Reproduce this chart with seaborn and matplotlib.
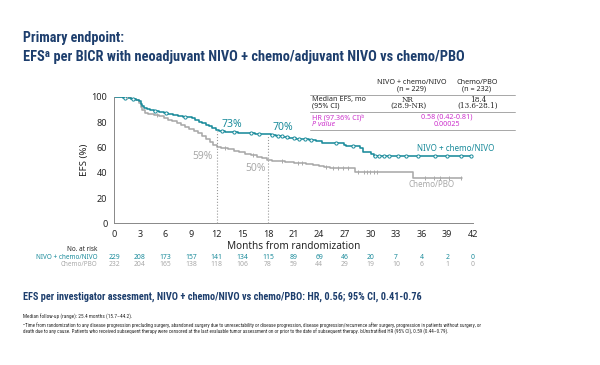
import numpy as np
import pandas as pd
import seaborn as sns
import matplotlib.pyplot as plt
from matplotlib import transforms

sns.set_style('white')
plt.rcParams['font.family'] = ['Noto Sans', 'DejaVu Sans']

# KM steps (months, EFS %)
nivo_t = [0, 0.5, 1, 1.5, 2, 2.5, 2.9, 3.1, 3.3, 3.5, 3.8, 4.2, 4.6, 5.2, 5.8, 6.3, 6.9, 7.5,
          8.0, 8.6, 9.1, 9.5, 9.9, 10.3, 10.7, 11.1, 11.5, 11.9, 12.3, 13.0, 13.8, 14.5, 15.5,
          16.5, 17.5, 18.3, 19.0, 19.8, 20.5, 21.3, 22.0, 22.8, 23.6, 24.3, 26.9, 27.2, 28.8,
          29.1, 30.1, 30.4, 41.9]
nivo_s = [100, 99.6, 99.1, 98.7, 98.3, 97.8, 96.5, 94.3, 92.5, 91.2, 90.0, 89.2, 88.4, 87.6,
          86.9, 86.0, 85.2, 84.8, 84.3, 83.8, 83.0, 81.7, 80.4, 79.1, 77.8, 76.5, 75.2, 74.0,
          73.2, 72.5, 72.0, 71.6, 71.2, 70.8, 70.4, 69.8, 69.1, 68.4, 67.8, 67.0, 66.3, 65.7,
          65.0, 63.2, 62.0, 61.0, 59.5, 56.6, 54.5, 53.4, 53.4]
pbo_t = [0, 1, 2, 2.6, 2.9, 3.1, 3.3, 3.6, 4.0, 4.6, 5.2, 5.8, 6.3, 6.8, 7.3, 7.8, 8.3, 8.8,
         9.3, 9.8, 10.3, 10.8, 11.2, 11.6, 12.0, 12.5, 13.3, 14.0, 14.6, 15.3, 16.0, 16.7,
         17.3, 17.9, 18.5, 19.3, 20.0, 21.0, 22.5, 23.3, 24.0, 24.6, 25.3, 28.2, 35.0, 40.7]
pbo_s = [100, 99.5, 98.5, 97.5, 95, 92, 89.5, 87.5, 86.5, 85.5, 84.5, 83.5, 82, 80.5, 79,
         77.3, 75.8, 74.3, 72.8, 71, 69, 66.5, 64.5, 62, 60, 59.2, 58.5, 57.3, 56, 55, 54,
         52.8, 51.5, 50.3, 49.6, 49.0, 48.3, 47.6, 47.0, 46.2, 45.5, 44.5, 43.6, 40.3, 36.0, 36.0]
nivo_cens = [1.2, 2.2, 4.8, 6.1, 8.3, 12.6, 14.0, 16.0, 17.0, 18.5, 19.2, 19.6, 20.2, 21.0,
             21.6, 22.4, 23.0, 26.0, 28.0, 30.6, 31.0, 31.6, 32.2, 33.2, 34.2, 35.6, 37.6,
             39.0, 40.6, 41.8]
pbo_cens = [1.5, 5.0, 13.0, 16.3, 19.6, 21.5, 22.0, 24.8, 25.6, 26.2, 26.8, 27.4, 28.6, 29.2,
            29.6, 30.0, 30.4, 30.8, 36.4, 37.4, 38.2, 39.2, 40.6]

ticks = list(range(0, 43, 3))
risk_nivo = [229, 208, 173, 157, 141, 134, 115, 89, 69, 46, 20, 7, 4, 2, 0]
risk_pbo = [232, 204, 165, 138, 118, 106, 78, 59, 44, 29, 19, 10, 6, 1, 0]

teal = '#1a8b9b'
grey = '#a9a9a9'
navy = '#1d3e6d'
mag = '#cc33cc'
cond = ['Roboto Condensed', 'DejaVu Sans']


def surv_at(t, st, ss):
    i = np.searchsorted(st, t, side='right') - 1
    return ss[i]


def fy(p):
    return 1 - p / 365


fig = plt.figure(figsize=(6, 3.65), dpi=100)
ax = fig.add_axes([0.1905, 0.388, 0.5975, 0.347])

df = pd.concat([
    pd.DataFrame({'t': pbo_t, 's': pbo_s, 'arm': 'Chemo/PBO'}),
    pd.DataFrame({'t': nivo_t, 's': nivo_s, 'arm': 'NIVO + chemo/NIVO'}),
])
sns.lineplot(data=df, x='t', y='s', hue='arm', palette={'Chemo/PBO': grey, 'NIVO + chemo/NIVO': teal},
             drawstyle='steps-post', estimator=None, lw=1.15, legend=False, ax=ax)

cn = pd.DataFrame({'t': nivo_cens, 's': [surv_at(t, nivo_t, nivo_s) for t in nivo_cens]})
cp = pd.DataFrame({'t': pbo_cens, 's': [surv_at(t, pbo_t, pbo_s) for t in pbo_cens]})
ax.plot(cn['t'], cn['s'], 'o', ms=2.3, mfc='white', mec=teal, mew=0.7)
ax.plot(cp['t'], cp['s'], '|', ms=3, color=grey, mew=0.7)

# landmarks
for m, a in [(12, 73), (18, 70)]:
    ax.plot([m, m], [0, a], ls=':', color='#999999', lw=0.8)
ax.text(12.5, 76, '73%', color=teal, fontsize=7.5, fontweight='bold')
ax.text(18.5, 74, '70%', color=teal, fontsize=7.5, fontweight='bold')
ax.text(9.2, 50.5, '59%', color=grey, fontsize=7.5)
ax.text(15.4, 41.5, '50%', color=grey, fontsize=7.5)
ax.text(35.5, 57, 'NIVO + chemo/NIVO', color=teal, fontsize=5.8)
ax.text(34.5, 29, 'Chemo/PBO', color=grey, fontsize=5.8)

ax.set_xlim(0, 42)
ax.set_ylim(0, 100)
ax.set_xticks(ticks)
ax.set_yticks(range(0, 101, 20))
ax.tick_params(labelsize=6.5, length=3, width=0.6, color='#888888', pad=2)
for s in ['top', 'right']:
    ax.spines[s].set_visible(False)
for s in ['left', 'bottom']:
    ax.spines[s].set_color('#888888')
    ax.spines[s].set_linewidth(0.7)
ax.set_xlabel('Months from randomization', fontsize=7.2, labelpad=1, fontweight='medium')
ax.set_ylabel('EFS (%)', fontsize=7, labelpad=2)

# risk table
tr = transforms.blended_transform_factory(ax.transData, fig.transFigure)
fig.text(0.163, fy(249.5), 'No. at risk', fontsize=4.6, ha='right', va='center')
fig.text(0.163, fy(257.5), 'NIVO + chemo/NIVO', fontsize=4.6, ha='right', va='center', color=teal)
fig.text(0.163, fy(264), 'Chemo/PBO', fontsize=4.6, ha='right', va='center', color=grey)
for m, a, b in zip(ticks, risk_nivo, risk_pbo):
    ax.text(m, fy(257.5), str(a), transform=tr, fontsize=4.9, ha='center', va='center',
            color=teal, fontweight='bold')
    ax.text(m, fy(264), str(b), transform=tr, fontsize=4.9, ha='center', va='center', color=grey)

# summary table
fs = 5.2
fig.text(412 / 600, fy(82), 'NIVO + chemo/NIVO', fontsize=fs, ha='center', va='center')
fig.text(412 / 600, fy(89.5), '(n = 229)', fontsize=fs, ha='center', va='center')
fig.text(477 / 600, fy(82), 'Chemo/PBO', fontsize=fs, ha='center', va='center')
fig.text(477 / 600, fy(89.5), '(n = 232)', fontsize=fs, ha='center', va='center')
for yy in [95, 111.7, 130.5]:
    fig.add_artist(plt.Line2D([310 / 600, 515 / 600], [fy(yy), fy(yy)], color='#999999', lw=0.6))
fig.text(312 / 600, fy(99.5), 'Median EFS, mo', fontsize=fs, va='center')
fig.text(312 / 600, fy(106), '(95% CI)', fontsize=fs, va='center')
fig.text(408 / 600, fy(99.5), 'NR', fontsize=fs, ha='center', va='center', family='DejaVu Serif')
fig.text(408 / 600, fy(106), '(28.9-NR)', fontsize=fs, ha='center', va='center', family='DejaVu Serif')
fig.text(478 / 600, fy(99.5), '18.4', fontsize=fs, ha='center', va='center', family='DejaVu Serif')
fig.text(478 / 600, fy(106), '(13.6-28.1)', fontsize=fs, ha='center', va='center', family='DejaVu Serif')
fig.text(312 / 600, fy(117.5), 'HR (97.36% CI)\u1d47', fontsize=fs, va='center', color=mag)
fig.text(312 / 600, fy(124.5), 'P value', fontsize=fs, va='center', color=mag, style='italic')
fig.text(447 / 600, fy(117.5), '0.58 (0.42-0.81)', fontsize=fs, ha='center', va='center', color=mag)
fig.text(447 / 600, fy(124.5), '0.00025', fontsize=fs, ha='center', va='center', color=mag)

# titles and notes, each sized to the width it takes in the reference
renderer = fig.canvas.get_renderer()


def fit_text(y, s, width_px, size, **kw):
    t = fig.text(23 / 600, fy(y), s, fontsize=size, va='center', family=cond, **kw)
    w = t.get_window_extent(renderer).width
    if w > width_px:
        t.set_fontsize(size * width_px / w)
    return t


fit_text(38, 'Primary endpoint:', 101, 12.5, fontweight='bold', color=navy)
fit_text(57, 'EFS\u1d43 per BICR with neoadjuvant NIVO + chemo/adjuvant NIVO vs chemo/PBO', 440, 12.5,
         fontweight='bold', color=navy)
fit_text(297, 'EFS per investigator assesment, NIVO + chemo/NIVO vs chemo/PBO: HR, 0.56; 95% CI, 0.41-0.76',
         395, 8.5, fontweight='bold', color=navy)
fit_text(317, 'Median follow-up (range): 25.4 months (15.7\u201344.2).', 107, 4)
fit_text(325, '\u1d43Time from randomization to any disease progression precluding surgery, abandoned surgery due to '
         'unresectability or disease progression, disease progression/recurrence after surgery, progression in '
         'patients without surgery, or', 463, 4)
fit_text(332, 'death due to any cause. Patients who received subsequent therapy were censored at the last evaluable '
         'tumor assessment on or prior to the date of subsequent therapy. bUnstratified HR (95% CI), 0.59 (0.44\u20130.79).',
         430, 4)

fig.savefig('out.png', dpi=100)
